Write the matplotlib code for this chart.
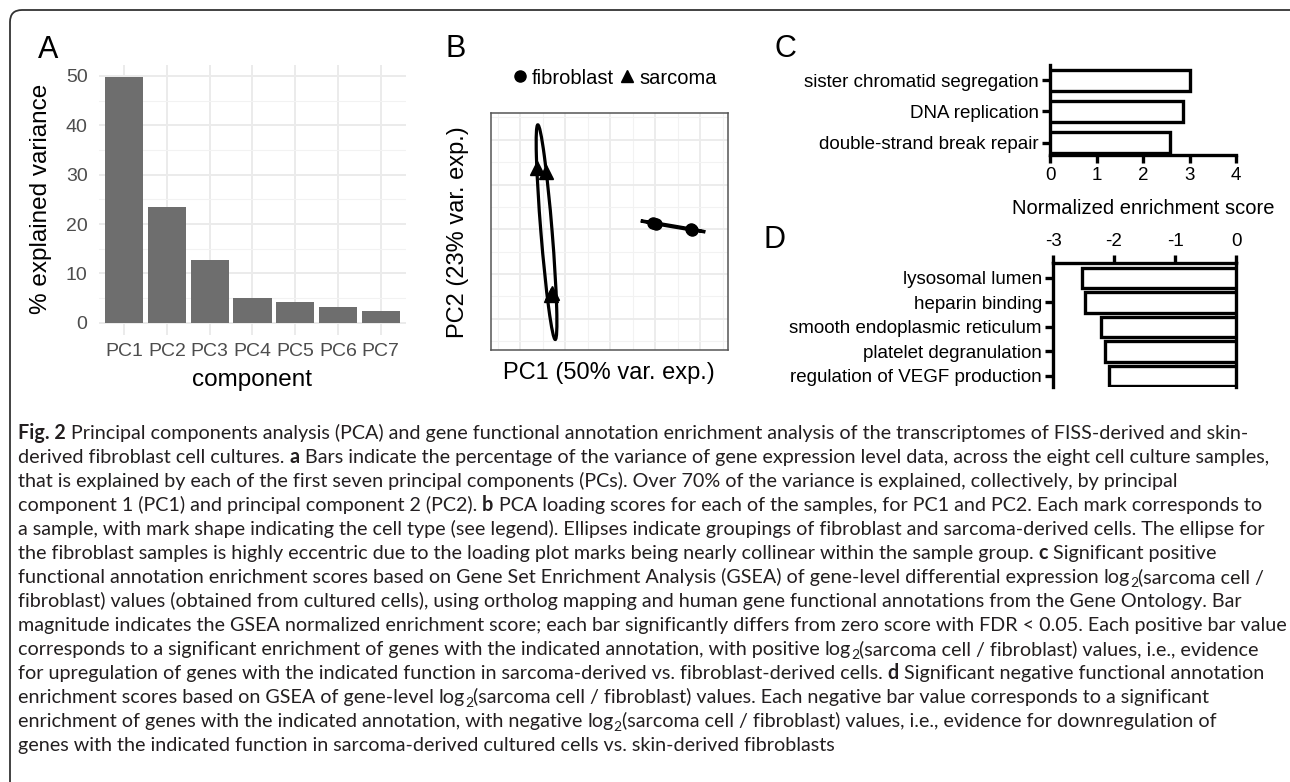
import numpy as np
import matplotlib
matplotlib.use("Agg")
import matplotlib.pyplot as plt
from matplotlib.patches import FancyBboxPatch, Ellipse
from matplotlib.lines import Line2D
from matplotlib.ticker import MultipleLocator, NullFormatter
from matplotlib.transforms import IdentityTransform

W, H = 1290, 782

# ---- data ----
components = ["PC1", "PC2", "PC3", "PC4", "PC5", "PC6", "PC7"]
explained = [49.8, 23.4, 12.7, 5.0, 4.2, 3.2, 2.4]

fib_pc1 = [0.95, 1.02, 1.79, 1.83]
fib_pc2 = [0.15, 0.12, 0.00, -0.01]
sar_pc1 = [-1.63, -1.42, -1.29, -1.32]
sar_pc2 = [1.37, 1.27, -1.43, -1.47]

up_terms = ["sister chromatid segregation", "DNA replication", "double-strand break repair"]
up_nes = [3.02, 2.87, 2.59]

down_terms = ["lysosomal lumen", "heparin binding", "smooth endoplasmic reticulum",
              "platelet degranulation", "regulation of VEGF production"]
down_nes = [-2.53, -2.48, -2.22, -2.15, -2.09]

LOG = [("log", "n"), ("2", "s")]
caption = [
    [("Fig. 2", "b"), (" Principal components analysis (PCA) and gene functional annotation enrichment analysis of the transcriptomes of FISS-derived and skin-", "n")],
    [("derived fibroblast cell cultures. ", "n"), ("a", "b"), (" Bars indicate the percentage of the variance of gene expression level data, across the eight cell culture samples,", "n")],
    [("that is explained by each of the first seven principal components (PCs). Over 70% of the variance is explained, collectively, by principal", "n")],
    [("component 1 (PC1) and principal component 2 (PC2). ", "n"), ("b", "b"), (" PCA loading scores for each of the samples, for PC1 and PC2. Each mark corresponds to", "n")],
    [("a sample, with mark shape indicating the cell type (see legend). Ellipses indicate groupings of fibroblast and sarcoma-derived cells. The ellipse for", "n")],
    [("the fibroblast samples is highly eccentric due to the loading plot marks being nearly collinear within the sample group. ", "n"), ("c", "b"), (" Significant positive", "n")],
    [("functional annotation enrichment scores based on Gene Set Enrichment Analysis (GSEA) of gene-level differential expression ", "n")] + LOG + [("(sarcoma cell /", "n")],
    [("fibroblast) values (obtained from cultured cells), using ortholog mapping and human gene functional annotations from the Gene Ontology. Bar", "n")],
    [("magnitude indicates the GSEA normalized enrichment score; each bar significantly differs from zero score with FDR < 0.05. Each positive bar value", "n")],
    [("corresponds to a significant enrichment of genes with the indicated annotation, with positive ", "n")] + LOG + [("(sarcoma cell / fibroblast) values, i.e., evidence", "n")],
    [("for upregulation of genes with the indicated function in sarcoma-derived vs. fibroblast-derived cells. ", "n"), ("d", "b"), (" Significant negative functional annotation", "n")],
    [("enrichment scores based on GSEA of gene-level ", "n")] + LOG + [("(sarcoma cell / fibroblast) values. Each negative bar value corresponds to a significant", "n")],
    [("enrichment of genes with the indicated annotation, with negative ", "n")] + LOG + [("(sarcoma cell / fibroblast) values, i.e., evidence for downregulation of", "n")],
    [("genes with the indicated function in sarcoma-derived cultured cells vs. skin-derived fibroblasts", "n")],
]

plt.rcParams["font.family"] = ["Liberation Sans", "DejaVu Sans"]
plt.rcParams["axes.unicode_minus"] = False

fig = plt.figure(figsize=(W / 100, H / 100), dpi=100)


def px_axes(left, top, right, bottom):
    return fig.add_axes([left / W, 1 - bottom / H, (right - left) / W, (bottom - top) / H])


def ftext(x, y, s, **kw):
    return fig.text(x / W, 1 - y / H, s, **kw)


# outer rounded frame
frame = FancyBboxPatch((10, -30), 1300, 802, boxstyle="round,pad=0,rounding_size=12",
                       transform=IdentityTransform(), fill=False, ec="#333333", lw=1.3)
fig.patches.append(frame)

# ---- panel A ----
axA = px_axes(98.6, 64.7, 406.4, 335)
xA = np.arange(len(components))
axA.bar(xA, explained, width=0.9, color="#6E6E6E", zorder=2)
axA.set_xlim(-0.6, len(components) - 0.4)
axA.set_ylim(-0.05 * max(explained), 1.05 * max(explained))
axA.set_xticks(xA)
axA.set_xticklabels(components)
axA.yaxis.set_major_locator(MultipleLocator(10))
axA.yaxis.set_minor_locator(MultipleLocator(5))
axA.grid(which="major", color="#EBEBEB", lw=1.4, zorder=0)
axA.grid(which="minor", axis="y", color="#F2F2F2", lw=0.8, zorder=0)
for s in axA.spines.values():
    s.set_visible(False)
axA.tick_params(which="both", length=0, labelsize=14, labelcolor="#4D4D4D")
axA.tick_params(axis="y", pad=8)
axA.tick_params(axis="x", pad=6)
ftext(41, 199, "% explained variance", rotation=90, ha="center", va="center", fontsize=17.5)
ftext(252, 380, "component", ha="center", va="center", fontsize=17.5)

# ---- panel B ----
axB = px_axes(491, 113, 728, 350)
axB.set_xlim(-2.65, 2.62)
axB.set_ylim(-2.7, 2.6)
for axis in (axB.xaxis, axB.yaxis):
    axis.set_major_locator(MultipleLocator(1))
    axis.set_minor_locator(MultipleLocator(0.5))
    axis.set_major_formatter(NullFormatter())
axB.tick_params(which="both", length=0)
axB.grid(which="major", color="#EBEBEB", lw=1.3, zorder=0)
axB.grid(which="minor", color="#F2F2F2", lw=0.8, zorder=0)
axB.set_axisbelow(True)
for s in axB.spines.values():
    s.set_color("#555555")
    s.set_linewidth(1.1)


def add_ellipse(ax, xs, ys, scale=1.5):
    pts = np.column_stack([xs, ys])
    m = pts.mean(axis=0)
    vals, vecs = np.linalg.eigh(np.cov(pts.T))
    ang = np.degrees(np.arctan2(vecs[1, 1], vecs[0, 1]))
    e = Ellipse(m, 2 * scale * np.sqrt(vals[1]), 2 * scale * np.sqrt(max(vals[0], 0)),
                angle=ang, fill=False, ec="black", lw=2.3, zorder=3)
    ax.add_patch(e)


add_ellipse(axB, fib_pc1, fib_pc2)
add_ellipse(axB, sar_pc1, sar_pc2)
axB.plot(fib_pc1, fib_pc2, "o", color="black", ms=8, ls="", zorder=4)
axB.plot(sar_pc1, sar_pc2, "^", color="black", ms=10, ls="", zorder=4)
handles = [Line2D([], [], marker="o", color="black", ls="", ms=8),
           Line2D([], [], marker="^", color="black", ls="", ms=9)]
axB.legend(handles, ["fibroblast", "sarcoma"], loc="center", ncol=2, frameon=False,
           bbox_to_anchor=(615 / W, 1 - 78 / H), bbox_transform=fig.transFigure,
           fontsize=14.5, handlelength=0.7, handletextpad=0.25, columnspacing=0.3,
           borderpad=0)
ftext(609, 373, "PC1 (50% var. exp.)", ha="center", va="center", fontsize=17)
ftext(458, 232, "PC2 (23% var. exp.)", rotation=90, ha="center", va="center", fontsize=17)

# ---- panel C ----
axC = px_axes(1050, 65, 1236, 155)
yC = np.arange(len(up_terms))
axC.barh(yC, up_nes, height=0.68, color="white", edgecolor="black", lw=2.4, zorder=3)
axC.set_xlim(0, 4)
axC.set_ylim(2.4, -0.49)
axC.set_yticks(yC)
axC.set_yticklabels(up_terms)
axC.set_xticks(range(5))
for side in ("top", "right"):
    axC.spines[side].set_visible(False)
for side in ("left", "bottom"):
    axC.spines[side].set_linewidth(2.4)
axC.tick_params(width=2.4, length=6, labelsize=13.5, pad=3)
axC.tick_params(axis="y", pad=2)
ftext(1143, 208, "Normalized enrichment score", ha="center", va="center", fontsize=14.5)

# ---- panel D ----
axD = px_axes(1053, 263, 1236, 387)
yD = np.arange(len(down_terms))
axD.barh(yD, down_nes, height=0.85, color="white", edgecolor="black", lw=2.4, zorder=3)
axD.set_xlim(-3, 0)
axD.set_ylim(4.45, -0.61)
axD.set_yticks(yD)
axD.set_yticklabels(down_terms)
axD.set_xticks(range(-3, 1))
axD.xaxis.tick_top()
axD.spines["bottom"].set_visible(False)
for side in ("left", "top", "right"):
    axD.spines[side].set_linewidth(2.4)
axD.tick_params(width=2.4, length=6, labelsize=13.5, pad=3)
axD.tick_params(axis="y", pad=2)

# panel letters
for letter, (lx, ly) in zip("ABCD", [(38, 58), (445, 57), (775, 57), (763, 248)]):
    ftext(lx, ly, letter, fontsize=22, va="baseline", ha="left")

# ---- caption ----
renderer = fig.canvas.get_renderer()
cap_family = ["Lato", "DejaVu Sans"]


def seg_props(style, size):
    from matplotlib.font_manager import FontProperties
    fs = size * 0.7 if style == "s" else size
    return FontProperties(family=cap_family, size=fs,
                          weight="bold" if style == "b" else "normal")


def seg_width(text, style, size):
    p = seg_props(style, size)
    w1 = renderer.get_text_width_height_descent(text + "|", p, False)[0]
    w0 = renderer.get_text_width_height_descent("|", p, False)[0]
    return w1 - w0


def line_width(segs, size):
    return sum(seg_width(t, st, size) for t, st in segs)


cap_size = 10 * 1254 / line_width(caption[1], 10)
x0, y0, step = 18, 439, 24.0
for i, segs in enumerate(caption):
    x = x0
    yb = y0 + i * step
    for t, st in segs:
        dy = 0.22 * cap_size * 100 / 72 if st == "s" else 0
        fig.text(x / W, 1 - (yb + dy) / H, t, fontproperties=seg_props(st, cap_size),
                 va="baseline", ha="left", color="#231F20")
        x += seg_width(t, st, cap_size) * 72 / 100 * 100 / 72

fig.savefig("out.png", dpi=100)
